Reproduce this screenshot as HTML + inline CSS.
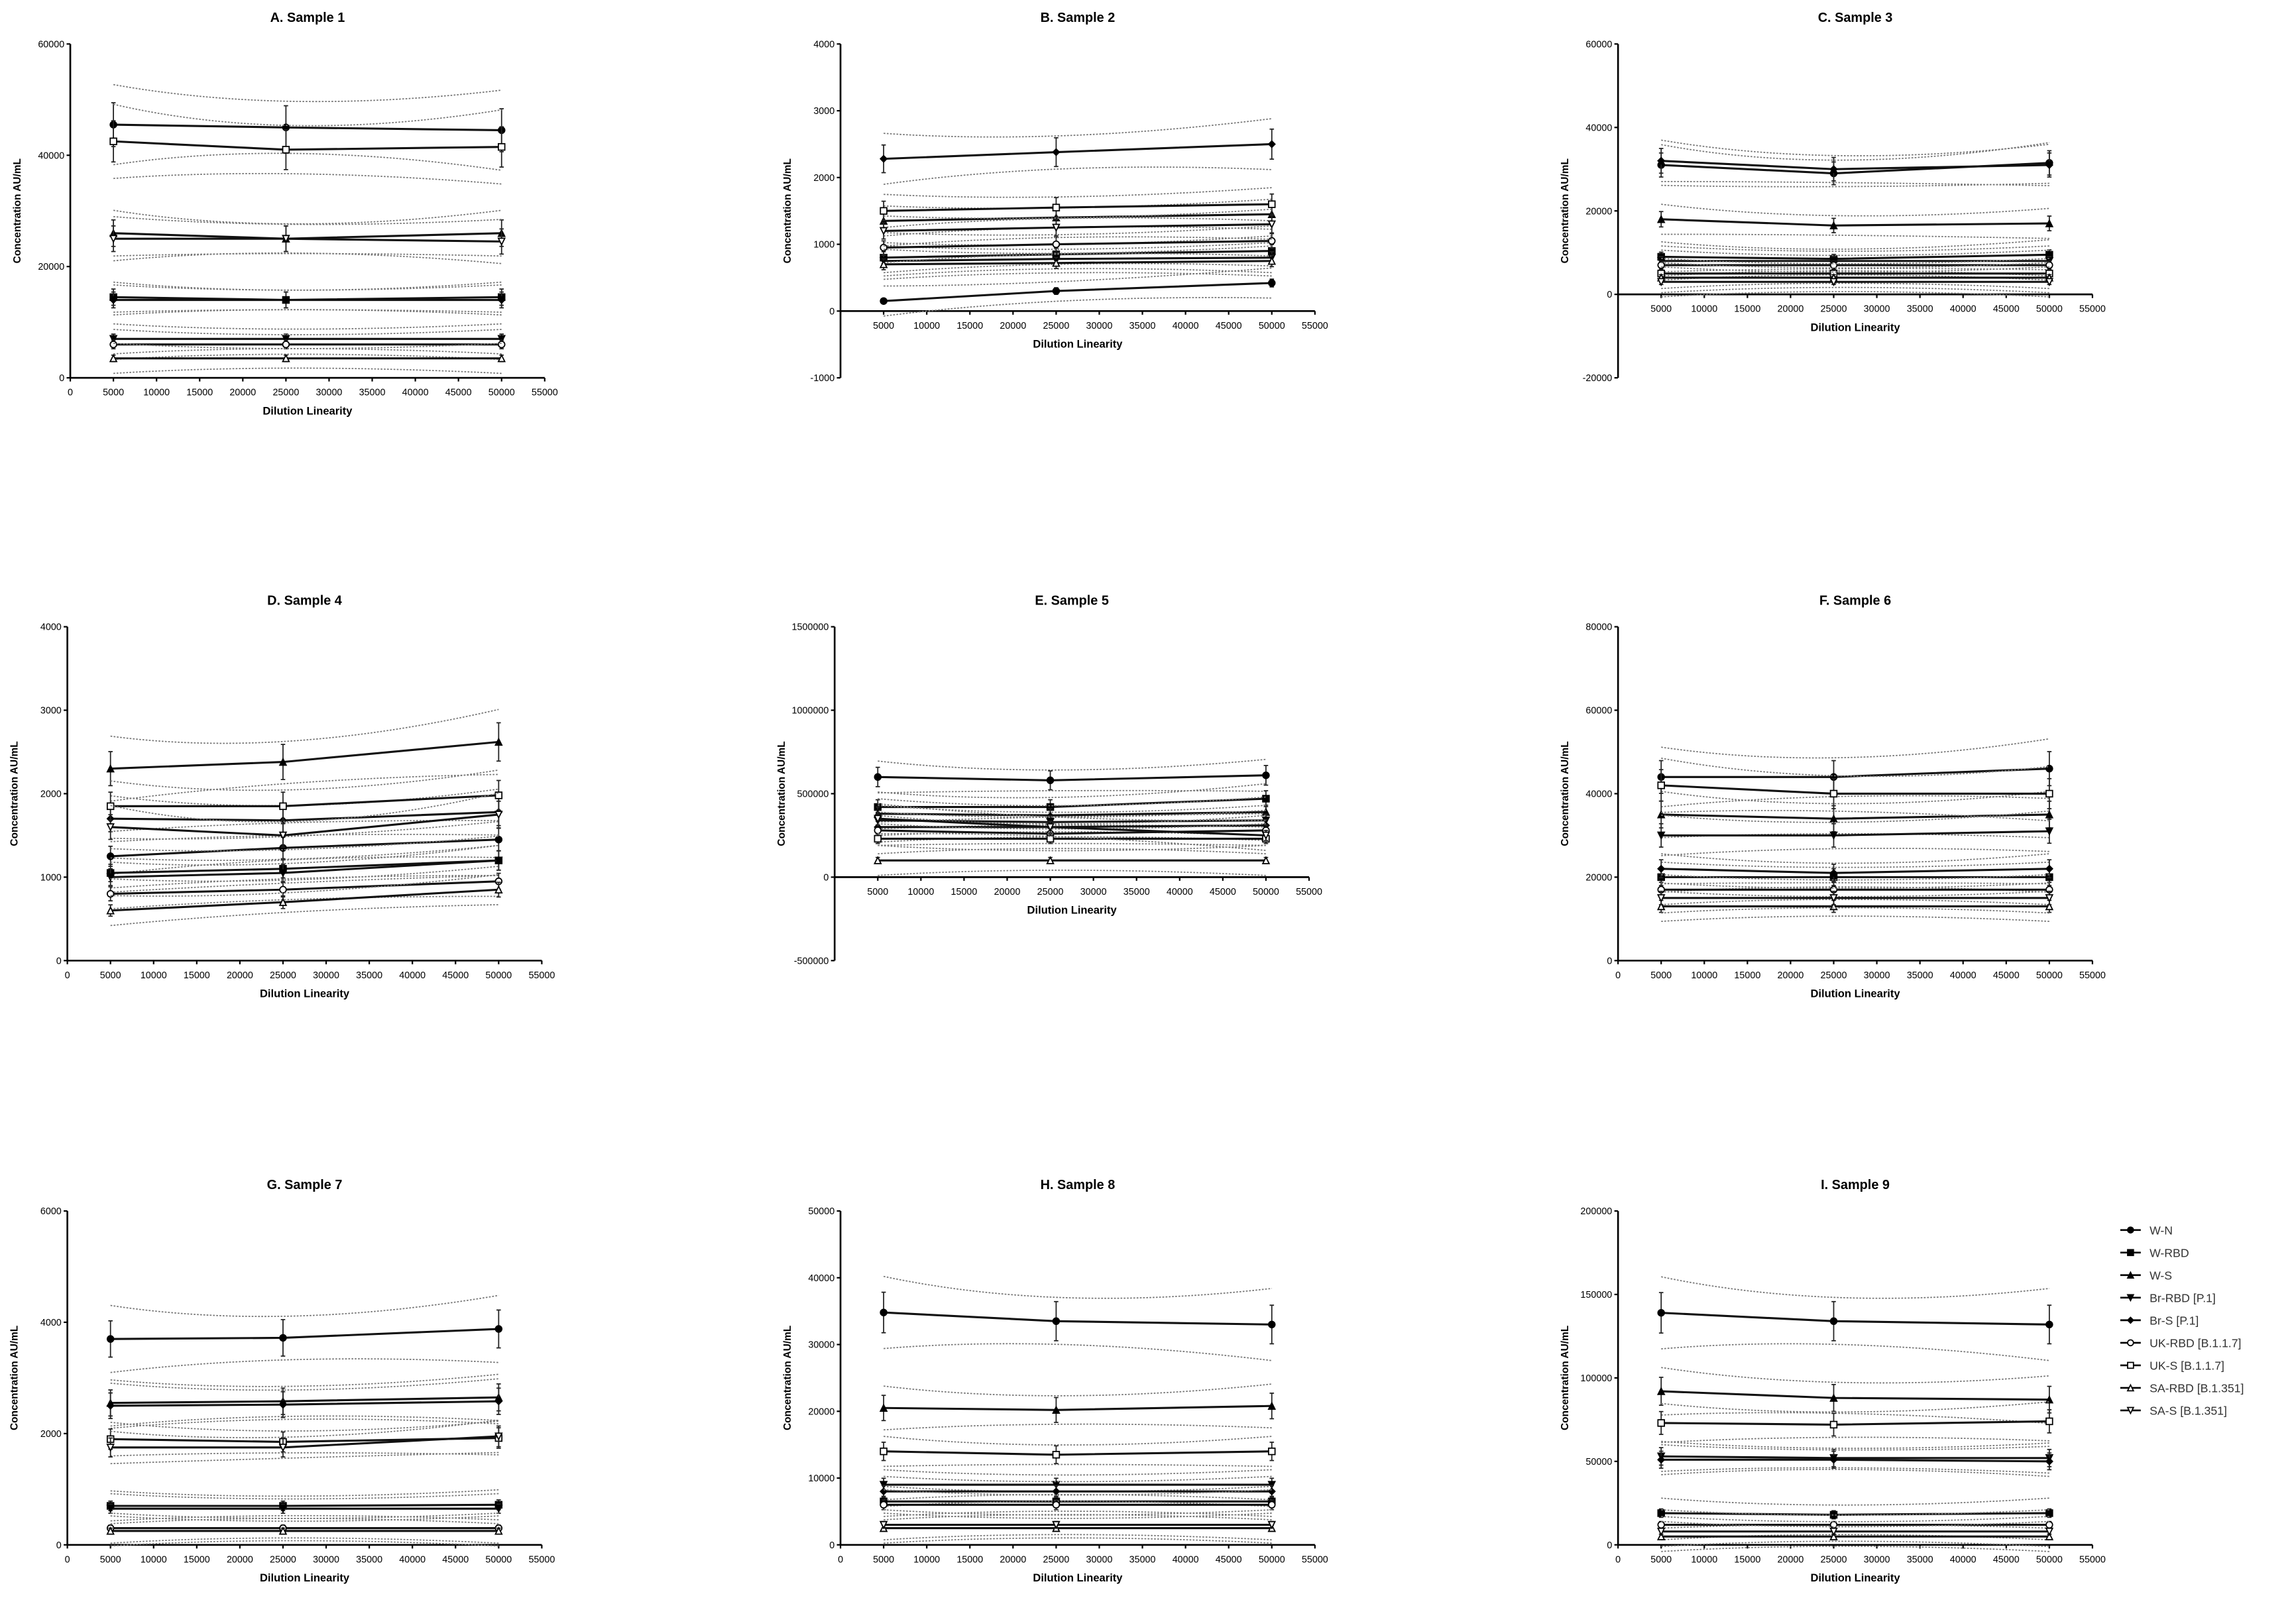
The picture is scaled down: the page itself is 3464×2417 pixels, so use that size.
<!DOCTYPE html>
<html><head><meta charset="utf-8"><style>
html,body{margin:0;padding:0;background:#fff;}
svg{display:block;font-family:"Liberation Sans",Arial,sans-serif;}
</style></head><body>
<svg id="fig" width="3464" height="2417" viewBox="0 0 1568 1094" xmlns="http://www.w3.org/2000/svg"></svg>
<script>
const xValues = [5000, 25000, 50000];
const seriesNames = ["W-N","W-RBD","W-S","Br-RBD [P.1]","Br-S [P.1]","UK-RBD [B.1.1.7]","UK-S [B.1.1.7]","SA-RBD [B.1.351]","SA-S [B.1.351]"];
const xTicks = [0,5000,10000,15000,20000,25000,30000,35000,40000,45000,50000,55000];
const panelTitles = ["A. Sample 1","B. Sample 2","C. Sample 3","D. Sample 4","E. Sample 5","F. Sample 6","G. Sample 7","H. Sample 8","I. Sample 9"];
const yTicksA = [0,20000,40000,60000];
const yTicksB = [-1000,0,1000,2000,3000,4000];
const yTicksC = [-20000,0,20000,40000,60000];
const yTicksD = [0,1000,2000,3000,4000];
const yTicksE = [-500000,0,500000,1000000,1500000];
const yTicksF = [0,20000,40000,60000,80000];
const yTicksG = [0,2000,4000,6000];
const yTicksH = [0,10000,20000,30000,40000,50000];
const yTicksI = [0,50000,100000,150000,200000];
const valuesA = [[45500,45000,44500],[14500,14000,14500],[26000,25000,26000],[7000,7000,7000],[14000,14000,14000],[6000,6000,6000],[42500,41000,41500],[3500,3500,3500],[25000,25000,24500]];
const valuesB = [[150,300,420],[800,850,900],[1350,1400,1450],[750,780,800],[2280,2380,2500],[950,1000,1050],[1500,1550,1600],[700,720,750],[1200,1250,1300]];
const valuesC = [[31000,29000,31500],[9000,8500,9500],[18000,16500,17000],[8000,8000,8000],[32000,30000,31000],[7000,7000,7000],[5000,5000,5000],[4000,4000,4000],[3000,3000,3000]];
const valuesD = [[1250,1350,1450],[1050,1100,1200],[2300,2380,2620],[1000,1050,1200],[1700,1680,1780],[800,850,950],[1850,1850,1980],[600,700,850],[1600,1500,1750]];
const valuesE = [[600000,580000,610000],[420000,420000,470000],[380000,370000,390000],[340000,330000,340000],[300000,300000,310000],[280000,260000,280000],[230000,230000,230000],[100000,100000,100000],[350000,300000,250000]];
const valuesF = [[44000,44000,46000],[20000,20000,20000],[35000,34000,35000],[30000,30000,31000],[22000,21000,22000],[17000,17000,17000],[42000,40000,40000],[13000,13000,13000],[15000,15000,15000]];
const valuesG = [[3700,3720,3880],[700,700,720],[2550,2580,2650],[650,650,650],[2500,2520,2580],[300,300,300],[1900,1850,1920],[250,250,250],[1750,1750,1950]];
const valuesH = [[34800,33500,33000],[6500,6500,6500],[20500,20200,20800],[9000,9000,9000],[8000,8000,8000],[6000,6000,6000],[14000,13500,14000],[2500,2500,2500],[3000,3000,3000]];
const valuesI = [[139000,134000,132000],[19000,18000,19000],[92000,88000,87000],[53000,52000,52000],[51000,51000,50000],[12000,12000,12000],[73000,72000,74000],[5000,5000,5000],[8000,8000,8000]];

const panels = [
 {t:yTicksA,v:valuesA,x:48,y:30},{t:yTicksB,v:valuesB,x:574,y:30},{t:yTicksC,v:valuesC,x:1105,y:30},
 {t:yTicksD,v:valuesD,x:46,y:428},{t:yTicksE,v:valuesE,x:570,y:428},{t:yTicksF,v:valuesF,x:1105,y:428},
 {t:yTicksG,v:valuesG,x:46,y:827},{t:yTicksH,v:valuesH,x:574,y:827},{t:yTicksI,v:valuesI,x:1105,y:827}];
const NS="http://www.w3.org/2000/svg";
const svg=document.getElementById('fig');
function mk(tag,attrs,parent){const e=document.createElementNS(NS,tag);for(const k in attrs)e.setAttribute(k,attrs[k]);(parent||svg).appendChild(e);return e;}
const W=324,H=228;
function marker(g,i,cx,cy,s){
  const f=(i>=5)?"#fff":"#000";
  if(i===0||i===5) return mk('circle',{cx:cx,cy:cy,r:s,fill:f,stroke:'#000','stroke-width':0.8},g);
  if(i===1||i===6) return mk('rect',{x:cx-s,y:cy-s,width:2*s,height:2*s,fill:f,stroke:'#000','stroke-width':0.8},g);
  if(i===2||i===7) return mk('polygon',{points:`${cx},${cy-s} ${cx-s},${cy+s} ${cx+s},${cy+s}`,fill:f,stroke:'#000','stroke-width':0.8},g);
  if(i===3||i===8) return mk('polygon',{points:`${cx-s},${cy-s} ${cx+s},${cy-s} ${cx},${cy+s}`,fill:f,stroke:'#000','stroke-width':0.8},g);
  return mk('polygon',{points:`${cx},${cy-s} ${cx+s},${cy} ${cx},${cy+s} ${cx-s},${cy}`,fill:f,stroke:'#000','stroke-width':0.8},g);
}
panels.forEach((p,pi)=>{
  const g=mk('g',{});
  
  
  const ymin=p.t[0],ymax=p.t[p.t.length-1];
  const sx=v=>p.x+v/55000*W;
  const sy=v=>p.y+H-(v-ymin)/(ymax-ymin)*H;
  const title=mk('text',{x:p.x+162,y:p.y-15,'text-anchor':'middle','font-size':9,'font-weight':'bold'},g);
  title.textContent=panelTitles[pi];
  
  
  const yl=mk('text',{transform:`translate(${p.x-34},${p.y+H/2}) rotate(-90)`,'text-anchor':'middle','font-size':7,'font-weight':'bold'},g);
  yl.textContent='Concentration AU/mL';
  
  
  mk('line',{x1:p.x,y1:p.y,x2:p.x,y2:p.y+H,stroke:'#000','stroke-width':1.2},g);
  p.t.forEach(t=>{
    mk('line',{x1:p.x-2.5,y1:sy(t),x2:p.x,y2:sy(t),stroke:'#000','stroke-width':1},g);
    const tl=mk('text',{x:p.x-4,y:sy(t)+2.3,'text-anchor':'end','font-size':6.5},g);
    tl.textContent=t;
    
    
  });
  const y0=sy(0);
  mk('line',{x1:p.x,y1:y0,x2:p.x+W,y2:y0,stroke:'#000','stroke-width':1.2},g);
  xTicks.forEach(t=>{
    mk('line',{x1:sx(t),y1:y0,x2:sx(t),y2:y0+2.5,stroke:'#000','stroke-width':1},g);
    if(t===0&&ymin<0)return;
    const tl=mk('text',{x:sx(t),y:y0+12,'text-anchor':'middle','font-size':6.5},g);
    tl.textContent=t;
    
    
  });
  const xl=mk('text',{x:p.x+162,y:y0+25,'text-anchor':'middle','font-size':7.5,'font-weight':'bold'},g);
  xl.textContent='Dilution Linearity';
  
  
  const span=ymax-ymin;
  p.v.forEach((vals,si)=>{
    const sg=mk('g',{},g);
    
    
    const m=(vals[0]+vals[1]+vals[2])/3;
    const w=Math.max(m*0.16,span*0.045);
    [1,-1].forEach(d=>{
      const a=vals[0]+d*w,b=vals[1]+d*w*0.65,c=vals[2]+d*w;
      const cp=2*b-(a+c)/2;
      mk('path',{d:`M${sx(xValues[0])},${sy(a)} Q${sx(xValues[1])},${sy(cp)} ${sx(xValues[2])},${sy(c)}`,fill:'none',stroke:'#777','stroke-width':0.8,'stroke-dasharray':'1.2,1'},sg);
    });
    mk('polyline',{points:vals.map((v,k)=>sx(xValues[k])+','+sy(v)).join(' '),fill:'none',stroke:'#111','stroke-width':1.4},sg);
    vals.forEach((v,k)=>{
      const e=v*0.08+span*0.005;
      const cx=sx(xValues[k]);
      mk('line',{x1:cx,y1:sy(v+e),x2:cx,y2:sy(v-e),stroke:'#222','stroke-width':0.8},sg);
      mk('line',{x1:cx-1.5,y1:sy(v+e),x2:cx+1.5,y2:sy(v+e),stroke:'#222','stroke-width':0.8},sg);
      mk('line',{x1:cx-1.5,y1:sy(v-e),x2:cx+1.5,y2:sy(v-e),stroke:'#222','stroke-width':0.8},sg);
      const mm=marker(sg,si,cx,sy(v),2.2);
      
      
    });
  });
});
const lg=mk('g',{});


seriesNames.forEach((n,i)=>{
  const y=840+i*15.4;
  const eg=mk('g',{},lg);
  
  
  mk('line',{x1:1448,y1:y,x2:1462,y2:y,stroke:'#000','stroke-width':1.2},eg);
  marker(eg,i,1455,y,2);
  const t=mk('text',{x:1468,y:y+3,'font-size':8,fill:'#333'},eg);
  t.textContent=n;
});
</script>
</body></html>
